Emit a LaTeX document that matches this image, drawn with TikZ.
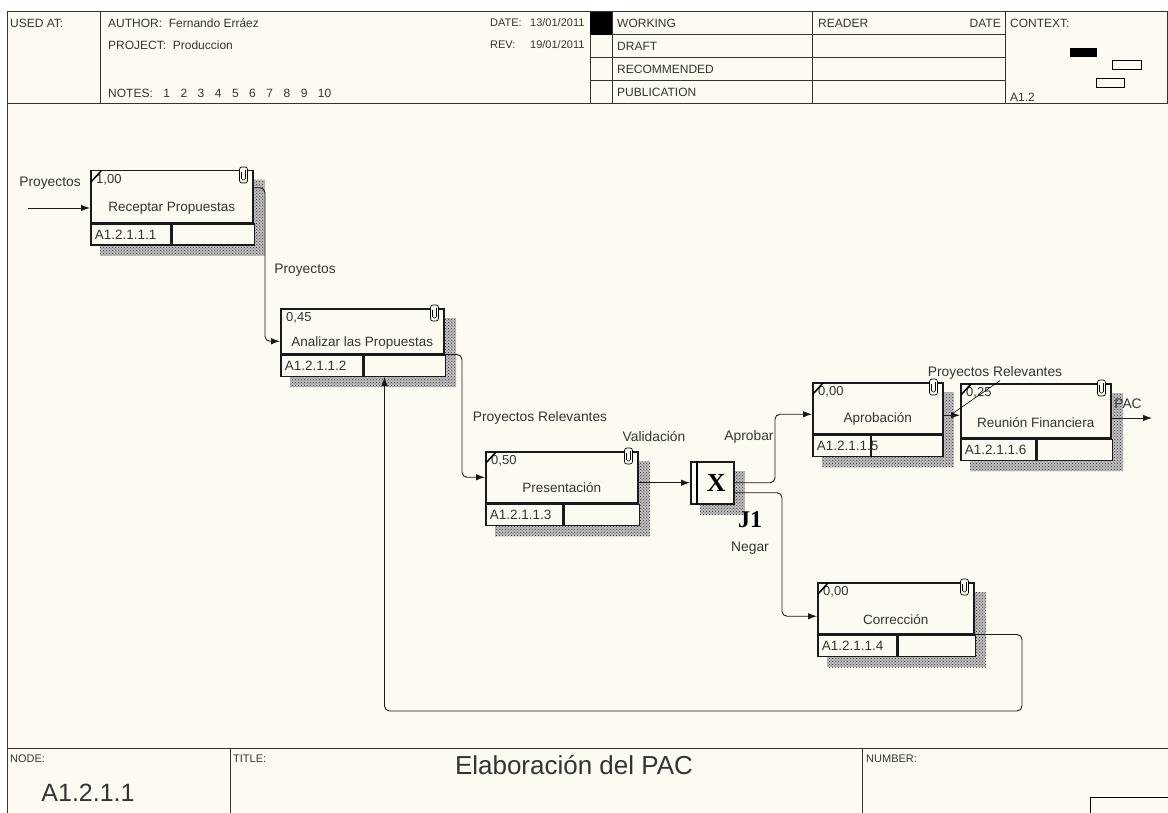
\documentclass[tikz,border=0pt]{standalone}
\usepackage{fontspec}
\setmainfont{Liberation Sans}
\newfontfamily\jfont{Liberation Serif}
\usetikzlibrary{arrows.meta,patterns,backgrounds}
\definecolor{cpaper}{HTML}{FDFBF1}
\definecolor{cline}{HTML}{1A1A1A}
\definecolor{ctext}{HTML}{333333}

\begin{document}
\begin{tikzpicture}[
  x=1pt,y=-1pt,
  act/.style={draw=cline,line width=1.5pt,anchor=north west,inner sep=0pt,fill=cpaper},
  cell/.style={draw=cline,line width=1.5pt,anchor=north west,inner xsep=4pt,inner ysep=2pt,
    minimum height=21pt,align=left,fill=cpaper,font=\fontsize{13.5}{15}\selectfont,text=ctext},
  actname/.style={font=\fontsize{13.5}{15}\selectfont,text=ctext,inner sep=0pt},
  cost/.style={anchor=north west,font=\fontsize{13}{15}\selectfont,text=ctext,inner sep=1pt},
  lab/.style={font=\fontsize{13.8}{15}\selectfont,text=ctext,inner sep=1pt},
  hdr/.style={anchor=west,font=\fontsize{12}{14}\selectfont,text=ctext,inner sep=0pt},
  flow/.style={draw=cline,line width=0.9pt,rounded corners=5pt,-{Latex[length=9pt,width=6.5pt]}},
  hatch/.style={preaction={fill=black!25},pattern=crosshatch dots,pattern color=black!80},
  hframe/.style={draw=black!80,line width=1pt}]
  \useasboundingbox (0,0) rectangle (1168,813);

  % header
  \draw[hframe] (7,12) rectangle (1167,104);
  \foreach \hx in {100,590,612,812,1005} \draw[hframe] (\hx,12) -- (\hx,104);
  \foreach \hy in {35,58,81} \draw[hframe] (590,\hy) -- (1005,\hy);
  \fill[black] (590,12) rectangle (612,35);
  \fill[black] (1070,48) rectangle (1097,57);
  \draw[line width=0.8pt] (1112,60) rectangle (1141,69);
  \draw[line width=0.8pt] (1096,78) rectangle (1124,87);
  \node[hdr] (husd) at (10,23) {USED AT:};
  \node[hdr] (haut) at (108,23) {AUTHOR:\ \ Fernando Erráez};
  \node[hdr] (hprj) at (108,45) {PROJECT:\ \ Produccion};
  \node[hdr] (hnot) at (108,93) {NOTES:\hspace{10.5pt}1\hspace{10.5pt}2\hspace{10.5pt}3\hspace{10.5pt}4\hspace{10.5pt}5\hspace{10.5pt}6\hspace{10.5pt}7\hspace{10.5pt}8\hspace{10.5pt}9\hspace{10.5pt}10};
  \node[hdr,font=\fontsize{11}{13}\selectfont] (hdat) at (490,23) {\makebox[40pt][l]{DATE:}13/01/2011};
  \node[hdr,font=\fontsize{11}{13}\selectfont] (hrev) at (490,45) {\makebox[40pt][l]{REV:}19/01/2011};
  \node[hdr] (hwrk) at (617,23) {WORKING};
  \node[hdr] (hdrf) at (617,46) {DRAFT};
  \node[hdr] (hrec) at (617,69) {RECOMMENDED};
  \node[hdr] (hpub) at (617,92) {PUBLICATION};
  \node[hdr] (hrdr) at (818,23) {READER};
  \node[hdr,anchor=east] (hrdt) at (1001,23) {DATE};
  \node[hdr] (hctx) at (1010,23) {CONTEXT:};
  \node[hdr] (hpar) at (1010,97) {A1.2};

  % footer
  \draw[hframe] (7,104) -- (7,813);
  \draw[hframe] (7,748) -- (1168,748);
  \draw[hframe] (230,748) -- (230,813);
  \draw[hframe] (862,748) -- (862,813);
  \draw[line width=0.8pt] (1090,797) rectangle (1170,815);
  \node[hdr,font=\fontsize{11}{13}\selectfont] (fnod) at (10,759) {NODE:};
  \node[hdr,font=\fontsize{11}{13}\selectfont] (fttl) at (233,759) {TITLE:};
  \node[hdr,font=\fontsize{11}{13}\selectfont] (fnum) at (866,759) {NUMBER:};
  \node[font=\fontsize{25}{28}\selectfont,text=ctext] (fnid) at (88,793) {A1.2.1.1};
  \node[font=\fontsize{26}{28}\selectfont,text=ctext] (ftxt) at (574,765) {Elaboración del PAC};

  % activities
  \node[act,minimum width=162,minimum height=52] (b1) at (90,170) {};
  \node[cell,text width=72] (b1n) at (b1.south west) {A1.2.1.1.1};
  \node[cell,text width=74] (b1r) at (b1n.north east) {};
  \node[actname] (b1t) at ([yshift=15]b1.south) {Receptar Propuestas};
  \node[cost] (b1c) at ([shift={(5,3)}]b1.north west) {1,00};

  \node[act,minimum width=163,minimum height=45] (b2) at (280,308) {};
  \node[cell,text width=74] (b2n) at (b2.south west) {A1.2.1.1.2};
  \node[cell,text width=73] (b2r) at (b2n.north east) {};
  \node[actname] (b2t) at ([yshift=11]b2.south) {Analizar las Propuestas};
  \node[cost] (b2c) at ([shift={(5,3)}]b2.north west) {0,45};

  \node[act,minimum width=152,minimum height=51] (b3) at (485,451) {};
  \node[cell,text width=69] (b3n) at (b3.south west) {A1.2.1.1.3};
  \node[cell,text width=67] (b3r) at (b3n.north east) {};
  \node[actname] (b3t) at ([yshift=16]b3.south) {Presentación};
  \node[cost] (b3c) at ([shift={(5,3)}]b3.north west) {0,50};

  \node[act,minimum width=156,minimum height=51] (b4) at (817,582) {};
  \node[cell,text width=71] (b4n) at (b4.south west) {A1.2.1.1.4};
  \node[cell,text width=69] (b4r) at (b4n.north east) {};
  \node[actname] (b4t) at ([yshift=15]b4.south) {Corrección};
  \node[cost] (b4c) at ([shift={(5,3)}]b4.north west) {0,00};

  \node[act,minimum width=130,minimum height=51] (b5) at (812,382) {};
  \node[cell,text width=64] (b5r) at ([xshift=58]b5.south west) {};
  \node[cell,text width=50] (b5n) at (b5.south west) {A1.2.1.1.5};
  \node[actname] (b5t) at ([yshift=16]b5.south) {Aprobación};
  \node[cost] (b5c) at ([shift={(5,3)}]b5.north west) {0,00};

  \node[act,minimum width=150,minimum height=54] (b6) at (960,383) {};
  \node[cell,text width=67] (b6n) at (b6.south west) {A1.2.1.1.6};
  \node[cell,text width=67] (b6r) at (b6n.north east) {};
  \node[actname] (b6t) at ([yshift=16]b6.south) {Reunión Financiera};
  \node[cost] (b6c) at ([shift={(5,3)}]b6.north west) {0,25};

  \foreach \b in {b1,b3,b4,b5,b6}
    \draw[line width=1.5pt] ([shift={(1,12)}]\b.north west) -- ([shift={(11,1)}]\b.north west);
  \foreach \b in {b1,b2,b3,b4,b5,b6} {
    \draw[line width=0.7pt,rounded corners=2.5pt,fill=cpaper] ([shift={(-14,-3)}]\b.north east) rectangle ([shift={(-6,13)}]\b.north east);
    \draw[line width=0.6pt,rounded corners=1.5pt] ([shift={(-12,2)}]\b.north east) -- ([shift={(-12,10)}]\b.north east) -- ([shift={(-8,10)}]\b.north east) -- ([shift={(-8,0)}]\b.north east);
  }

  % junction
  \node[act,minimum width=43,minimum height=42] (j1) at (690,461) {};
  \draw[line width=1.5pt] ([xshift=7]j1.north west) -- ([xshift=7]j1.south west);
  \node[font=\jfont\bfseries\fontsize{26}{28}\selectfont,inner sep=0pt] (j1x) at ([xshift=4]j1.center) {X};
  \node[font=\jfont\bfseries\fontsize{24}{26}\selectfont,inner sep=0pt] (j1l) at (750,520) {J1};

  % arrows
  \coordinate (inp) at (28,208);
  \coordinate (outp) at (1152,418);
  \coordinate (loop) at (1022,711);
  \draw[flow] (inp) -- (inp -| b1.west);
  \draw[flow] ([yshift=9]b1.east) -| ([xshift=-15,yshift=-10]b2.west) -- ([yshift=-10]b2.west);
  \draw[flow] (b2.south east) -| ([xshift=-23]b3.west) -- (b3.west);
  \draw[flow] (j1.west -| b3.east) -- (j1.west);
  \draw[flow] (j1.east) -| ([xshift=-37,yshift=-6]b5.west) -- ([yshift=-6]b5.west);
  \draw[flow] ([yshift=-10]j1.east) -| ([xshift=-35,yshift=-8]b4.west) -- ([yshift=-8]b4.west);
  \draw[flow] ([yshift=-7]b5.east) -- ([yshift=-7]b5.east -| b6.west);
  \draw[flow] (outp -| b6.east) -- (outp);
  \draw[flow] (b4.south east) -| (loop) -| ([xshift=21]b2n.south east);

  \node[lab] (l1) at (50,183) {Proyectos};
  \node[lab] (l2) at (305,270) {Proyectos};
  \node[lab] (l3) at (540,418) {Proyectos Relevantes};
  \node[lab] (l4) at (654,436) {Validación};
  \node[lab] (l5) at (749,437) {Aprobar};
  \node[lab] (l6) at (995,373) {Proyectos Relevantes};
  \node[lab] (l7) at (750,548) {Negar};
  \node[lab] (l8) at (1128,404) {PAC};
  \draw[line width=0.6pt] ([xshift=5]l6.south) -- ([shift={(8,6)}]b5.east);

  \begin{scope}[on background layer]
    \fill[white] (0,0) rectangle (1168,813);
    \fill[cpaper] (7,12) rectangle (1168,813);
    \foreach \b/\e in {b1/b1r,b2/b2r,b3/b3r,b4/b4r,b5/b5r,b6/b6r,j1/j1}
      \fill[hatch] ([shift={(10,10)}]\b.north west) rectangle ([shift={(10,10)}]\e.south east);
  \end{scope}
\end{tikzpicture}
\end{document}
